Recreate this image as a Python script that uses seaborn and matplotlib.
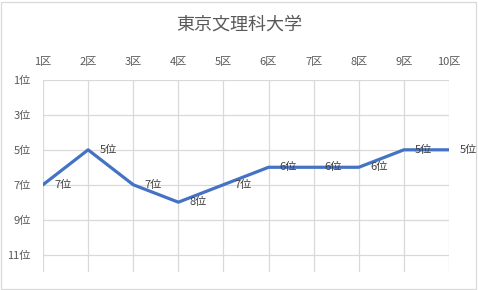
import matplotlib
matplotlib.use("Agg")
import matplotlib.pyplot as plt
import seaborn as sns
import pandas as pd

sections = ["1区", "2区", "3区", "4区", "5区", "6区", "7区", "8区", "9区", "10区"]
ranks = [7, 5, 7, 8, 7, 6, 6, 6, 5, 5]
rank_ticks = [1, 3, 5, 7, 9, 11]
title = "東京文理科大学"

sns.set_theme(style="white")
plt.rcParams['font.family'] = ['Noto Sans CJK JP', 'DejaVu Sans']

text_color = "#595959"
grid_color = "#D9D9D9"
line_color = "#4472C4"

df = pd.DataFrame({"section": sections, "rank": ranks})

fig = plt.figure(figsize=(4.78, 2.90), dpi=100)
ax = fig.add_axes([43/478, 1 - 272/290, (449 - 43)/478, (272 - 80)/290])

sns.lineplot(data=df, x="section", y="rank", ax=ax, color=line_color,
             linewidth=2.3, sort=False)

ax.set_xlim(0, len(sections) - 1)
ax.set_ylim(12, 1)
ax.set_yticks(rank_ticks)
ax.set_yticklabels([f"{r}位" for r in rank_ticks])
ax.set_xticks(range(len(sections)))
ax.set_xticklabels(sections)
ax.xaxis.tick_top()
ax.tick_params(axis='x', length=0, pad=9, labelsize=8, colors=text_color)
ax.tick_params(axis='y', length=0, pad=9, labelsize=8, colors=text_color)
ax.set_xlabel("")
ax.set_ylabel("")
for s in ax.spines.values():
    s.set_visible(False)

ax.grid(True, color=grid_color, linewidth=0.9)
ax.set_axisbelow(True)

for i, r in enumerate(ranks):
    ax.annotate(f"{r}位", (i, r), xytext=(8, 0), textcoords="offset points",
                ha="left", va="center", fontsize=8, color="#404040")

fig.text(0.5, 1 - 25/290, title, ha="center", va="center", fontsize=13,
         color=text_color)

border = plt.Rectangle((0.002, 0.004), 0.994, 0.99, transform=fig.transFigure,
                       fill=False, edgecolor=grid_color, linewidth=0.9)
fig.patches.append(border)

fig.savefig("out.png", dpi=100)
